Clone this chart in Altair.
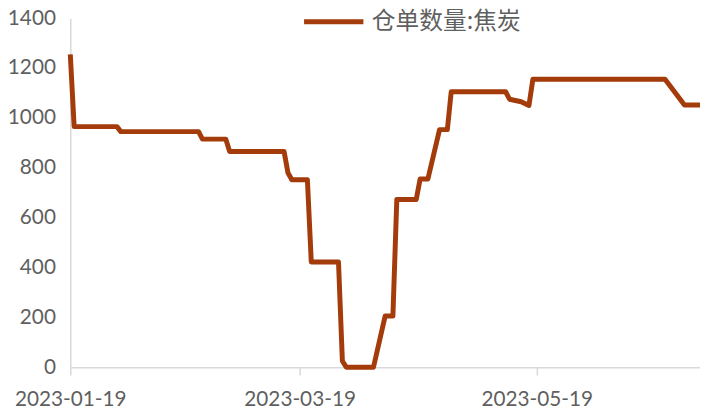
import altair as alt
import pandas as pd

dates = [
    "2023-01-19", "2023-01-20", "2023-01-31", "2023-02-01", "2023-02-21",
    "2023-02-22", "2023-02-28", "2023-03-01", "2023-03-15", "2023-03-16",
    "2023-03-17", "2023-03-21", "2023-03-22", "2023-03-29", "2023-03-30",
    "2023-03-31", "2023-04-07", "2023-04-10", "2023-04-12", "2023-04-13",
    "2023-04-18", "2023-04-19", "2023-04-21", "2023-04-24", "2023-04-26",
    "2023-04-27", "2023-05-11", "2023-05-12", "2023-05-15", "2023-05-17",
    "2023-05-18", "2023-06-21", "2023-06-26", "2023-06-30",
]
values = [
    1255, 965, 965, 945, 945,
    915, 915, 865, 865, 780,
    752, 752, 422, 422, 25,
    0, 0, 205, 205, 673,
    673, 755, 755, 953, 953,
    1105, 1105, 1075, 1065, 1050,
    1155, 1155, 1052, 1052,
]
series_name = "仓单数量:焦炭"
tick_dates = ["2023-01-19", "2023-03-19", "2023-05-19"]
y_ticks = [0, 200, 400, 600, 800, 1000, 1200, 1400]

df = pd.DataFrame({"date": pd.to_datetime(dates), "value": values, "series": series_name})

x_ticks = [alt.DateTime(year=int(d[:4]), month=int(d[5:7]), date=int(d[8:])) for d in tick_dates]

chart = alt.Chart(df).mark_line(strokeWidth=5, strokeJoin="round", strokeCap="butt").encode(
    x=alt.X(
        "date:T",
        scale=alt.Scale(domain=[alt.DateTime(year=2023, month=1, date=19),
                                alt.DateTime(year=2023, month=6, date=30)]),
        axis=alt.Axis(
            values=x_ticks, format="%Y-%m-%d", title=None, grid=False,
            domainColor="#D9D9D9", domainWidth=1.5, tickColor="#D9D9D9", tickWidth=1.5,
            tickSize=8, labelFont="Lato", labelFontSize=21, labelColor="#5f5f5f",
            labelPadding=14, labelFlush=False,
        ),
    ),
    y=alt.Y(
        "value:Q",
        scale=alt.Scale(domain=[0, 1400], nice=False),
        axis=alt.Axis(
            values=y_ticks, format="d", title=None, grid=False,
            domainColor="#D9D9D9", domainWidth=1.5, ticks=False,
            labelFont="Lato", labelFontSize=21, labelColor="#5f5f5f", labelPadding=15,
        ),
    ),
    color=alt.Color(
        "series:N",
        scale=alt.Scale(range=["#A33B0B"]),
        legend=alt.Legend(
            title=None, orient="none", legendX=234, legendY=-29, symbolType="stroke",
            symbolStrokeWidth=5, symbolSize=3600, labelFont="Noto Sans CJK SC",
            labelFontSize=24, labelColor="#5f5f5f", padding=0, labelOffset=6,
        ),
    ),
).properties(
    width=637, height=353,
    autosize=alt.AutoSizeParams(type="none"),
    padding={"left": 63, "top": 8, "right": 0, "bottom": 42},
).configure_view(stroke=None)

chart.save("out.html", embed_options={"renderer": "svg", "actions": False})
